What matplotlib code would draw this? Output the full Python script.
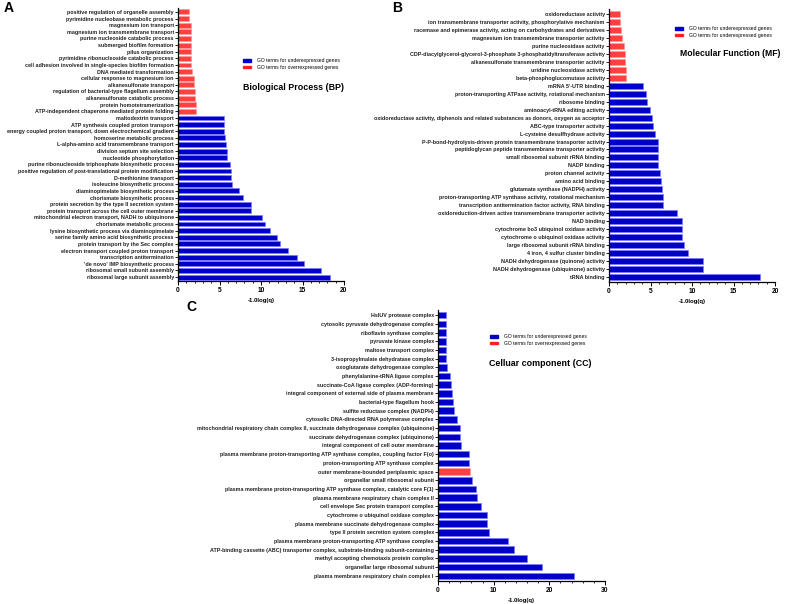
import numpy as np
import matplotlib
matplotlib.use("Agg")
import matplotlib.pyplot as plt
from matplotlib.patches import Patch
from matplotlib.ticker import MultipleLocator

plt.rcParams['font.family'] = ['Liberation Sans', 'DejaVu Sans']

# Biological Process (top to bottom)
bp_terms = ["positive regulation of organelle assembly", "pyrimidine nucleobase metabolic process",
    "magnesium ion transport", "magnesium ion transmembrane transport", "purine nucleoside catabolic process",
    "submerged biofilm formation", "pilus organization", "pyrimidine ribonucleoside catabolic process",
    "cell adhesion involved in single-species biofilm formation", "DNA mediated transformation",
    "cellular response to magnesium ion", "alkanesulfonate transport",
    "regulation of bacterial-type flagellum assembly", "alkanesulfonate catabolic process",
    "protein homotetramerization", "ATP-independent chaperone mediated protein folding",
    "maltodextrin transport", "ATP synthesis coupled proton transport",
    "energy coupled proton transport, down electrochemical gradient", "homoserine metabolic process",
    "L-alpha-amino acid transmembrane transport", "division septum site selection",
    "nucleotide phosphorylation", "purine ribonucleoside triphosphate biosynthetic process",
    "positive regulation of post-translational protein modification", "D-methionine transport",
    "isoleucine biosynthetic process", "diaminopimelate biosynthetic process",
    "chorismate biosynthetic process", "protein secretion by the type II secretion system",
    "protein transport across the cell outer membrane", "mitochondrial electron transport, NADH to ubiquinone",
    "chorismate metabolic process", "lysine biosynthetic process via diaminopimelate",
    "serine family amino acid biosynthetic process", "protein transport by the Sec complex",
    "electron transport coupled proton transport", "transcription antitermination",
    "'de novo' IMP biosynthetic process", "ribosomal small subunit assembly",
    "ribosomal large subunit assembly"]
bp_values = [1.29, 1.37, 1.53, 1.53, 1.57, 1.57, 1.6, 1.6, 1.6, 1.7, 1.9, 1.9, 2.05, 2.1, 2.14, 2.18,
    5.52, 5.56, 5.56, 5.65, 5.8, 5.89, 5.93, 6.29, 6.37, 6.37, 6.53, 7.34, 7.78, 8.75, 8.75,
    10.16, 10.5, 11.1, 11.9, 12.26, 13.27, 14.35, 15.2, 17.2, 18.35]
bp_over = [True] * 16 + [False] * 25

# Molecular Function
mf_terms = ["oxidoreductase activity", "ion transmembrane transporter activity, phosphorylative mechanism",
    "racemase and epimerase activity, acting on carbohydrates and derivatives",
    "magnesium ion transmembrane transporter activity", "purine nucleosidase activity",
    "CDP-diacylglycerol-glycerol-3-phosphate 3-phosphatidyltransferase activity",
    "alkanesulfonate transmembrane transporter activity", "uridine nucleosidase activity",
    "beta-phosphoglucomutase activity", "mRNA 5'-UTR binding",
    "proton-transporting ATPase activity, rotational mechanism", "ribosome binding",
    "aminoacyl-tRNA editing activity",
    "oxidoreductase activity, diphenols and related substances as donors, oxygen as acceptor",
    "ABC-type transporter activity", "L-cysteine desulfhydrase activity",
    "P-P-bond-hydrolysis-driven protein transmembrane transporter activity",
    "peptidoglycan peptide transmembrane transporter activity", "small ribosomal subunit rRNA binding",
    "NADP binding", "proton channel activity", "amino acid binding", "glutamate synthase (NADPH) activity",
    "proton-transporting ATP synthase activity, rotational mechanism",
    "transcription antitermination factor activity, RNA binding",
    "oxidoreduction-driven active transmembrane transporter activity", "NAD binding",
    "cytochrome bo3 ubiquinol oxidase activity", "cytochrome o ubiquinol oxidase activity",
    "large ribosomal subunit rRNA binding", "4 iron, 4 sulfur cluster binding",
    "NADH dehydrogenase (quinone) activity", "NADH dehydrogenase (ubiquinone) activity", "tRNA binding"]
mf_values = [1.29, 1.37, 1.49, 1.53, 1.85, 1.89, 1.89, 2.09, 2.09,
    4.06, 4.5, 4.59, 4.9, 5.23, 5.31, 5.59, 5.88, 5.88, 5.96, 5.96, 6.12, 6.28, 6.4, 6.52, 6.56,
    8.17, 8.77, 8.8, 8.8, 9.0, 9.5, 11.3, 11.3, 18.2]
mf_over = [True] * 9 + [False] * 25

# Cellular component
cc_terms = ["HslUV protease complex", "cytosolic pyruvate dehydrogenase complex", "riboflavin synthase complex",
    "pyruvate kinase complex", "maltose transport complex", "3-isopropylmalate dehydratase complex",
    "oxoglutarate dehydrogenase complex", "phenylalanine-tRNA ligase complex",
    "succinate-CoA ligase complex (ADP-forming)", "integral component of external side of plasma membrane",
    "bacterial-type flagellum hook", "sulfite reductase complex (NADPH)",
    "cytosolic DNA-directed RNA polymerase complex",
    "mitochondrial respiratory chain complex II, succinate dehydrogenase complex (ubiquinone)",
    "succinate dehydrogenase complex (ubiquinone)", "integral component of cell outer membrane",
    "plasma membrane proton-transporting ATP synthase complex, coupling factor F(o)",
    "proton-transporting ATP synthase complex", "outer membrane-bounded periplasmic space",
    "organellar small ribosomal subunit",
    "plasma membrane proton-transporting ATP synthase complex, catalytic core F(1)",
    "plasma membrane respiratory chain complex II", "cell envelope Sec protein transport complex",
    "cytochrome o ubiquinol oxidase complex", "plasma membrane succinate dehydrogenase complex",
    "type II protein secretion system complex", "plasma membrane proton-transporting ATP synthase complex",
    "ATP-binding cassette (ABC) transporter complex, substrate-binding subunit-containing",
    "methyl accepting chemotaxis protein complex", "organellar large ribosomal subunit",
    "plasma membrane respiratory chain complex I"]
cc_values = [1.38, 1.38, 1.44, 1.44, 1.5, 1.5, 1.56, 2.16, 2.34, 2.46, 2.7, 2.82, 3.42, 3.96, 3.96, 4.14,
    5.52, 5.64, 5.76, 6.12, 6.9, 7.08, 7.74, 8.82, 8.82, 9.24, 12.66, 13.62, 15.9, 18.72, 24.42]
cc_over = [False] * 31
cc_over[18] = True

BLUE, BLUE_EDGE = "#0000c8", "#7b7bff"
RED, RED_EDGE = "#ff4040", "#ff9a9a"

fig = plt.figure(figsize=(7.85, 6.04), dpi=100)


def panel(rect, terms, values, over, xmax, major, minor):
    ax = fig.add_axes(rect)
    y = np.arange(len(terms))
    cols = [RED if o else BLUE for o in over]
    edges = [RED_EDGE if o else BLUE_EDGE for o in over]
    ax.barh(y, values, height=0.75, color=cols, edgecolor=edges, linewidth=0.5)
    ax.set_ylim(len(terms) - 0.4, -0.6)
    ax.set_xlim(0, xmax)
    ax.set_yticks(y)
    ax.set_yticklabels(terms, fontsize=3.9, fontweight="bold", color="#222222")
    ax.xaxis.set_major_locator(MultipleLocator(major))
    ax.xaxis.set_minor_locator(MultipleLocator(minor))
    ax.tick_params(axis="y", length=2, width=0.6, pad=1)
    ax.tick_params(axis="x", which="major", length=3, width=0.7, labelsize=4.8, pad=1.5)
    ax.tick_params(axis="x", which="minor", length=1.6, width=0.6)
    for t in ax.get_xticklabels():
        t.set_fontweight("bold")
    ax.spines["top"].set_visible(False)
    ax.spines["right"].set_visible(False)
    ax.spines["left"].set_linewidth(0.9)
    ax.spines["bottom"].set_linewidth(0.9)
    ax.set_xlabel("-1.0log(q)", fontsize=4.3, fontweight="bold", labelpad=3)
    return ax


panel([178 / 785, 1 - 281 / 604, 166 / 785, 273 / 604], bp_terms, bp_values, bp_over, 20, 5, 1)
panel([609 / 785, 1 - 282 / 604, 166 / 785, 273 / 604], mf_terms, mf_values, mf_over, 20, 5, 1)
panel([438 / 785, 1 - 581 / 604, 167 / 785, 271 / 604], cc_terms, cc_values, cc_over, 30, 10, 2)


def legend(x, y, labels):
    handles = [Patch(facecolor=BLUE, edgecolor=BLUE), Patch(facecolor="#ff1f1f", edgecolor="#ff1f1f")]
    fig.legend(handles=handles, labels=labels, loc="upper left", bbox_to_anchor=(x, y),
               frameon=False, fontsize=3.6, handlelength=1.6, handleheight=0.45,
               labelspacing=0.35, handletextpad=1.2, borderpad=0, borderaxespad=0)


legend(243 / 785, 1 - 58 / 604, ["GO terms for underexpressed genes", "GO terms for overrexpressed genes"])
legend(675 / 785, 1 - 26 / 604, ["GO terms for underexpressed genes", "GO terms for underexpressed genes"])
legend(490 / 785, 1 - 334 / 604, ["GO terms for underexpressed genes", "GO terms for overrexpressed genes"])

fig.text(243 / 785, 1 - 87 / 604, "Biological Process (BP)", fontsize=6.4, fontweight="bold", va="center")
fig.text(680 / 785, 1 - 54 / 604, "Molecular Function (MF)", fontsize=6.2, fontweight="bold", va="center")
fig.text(489 / 785, 1 - 364 / 604, "Celluar component (CC)", fontsize=6.4, fontweight="bold", va="center")

fig.text(4 / 785, 1 - 1 / 604, "A", fontsize=10, fontweight="bold", va="top")
fig.text(392 / 785, 1 - 1 / 604, "B", fontsize=10, fontweight="bold", va="top")
fig.text(186 / 785, 1 - 300 / 604, "C", fontsize=10, fontweight="bold", va="top")

fig.savefig("out.png", dpi=100)
